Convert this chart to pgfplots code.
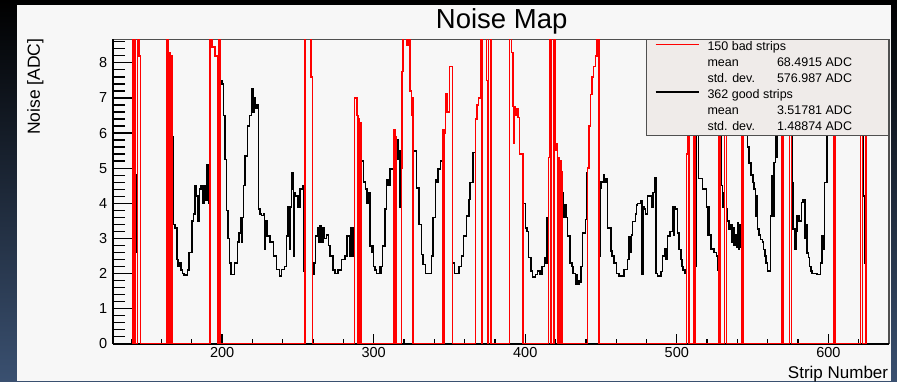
\documentclass[border=0pt]{standalone}
\usepackage{pgfplots}
\pgfplotsset{compat=1.18}
\usepackage{fontspec}
\setmainfont{Liberation Sans}
\definecolor{panel}{RGB}{247,247,247}
\definecolor{legfill}{RGB}{239,235,233}
\definecolor{framegray}{RGB}{80,80,80}
\definecolor{slideblue}{RGB}{58,80,112}
\definecolor{slidemid}{RGB}{10,14,22}
\begin{document}
\begin{tikzpicture}
\useasboundingbox (0pt,0pt) rectangle (897pt,381pt);
\shade[top color=black, middle color=slidemid, bottom color=slideblue] (0pt,0pt) rectangle (897pt,381pt);
\fill[panel] (17.3pt,0pt) rectangle (891pt,376pt);

% frame, y ticks, y label
\begin{axis}[
  at={(113pt,37.3pt)}, anchor=south west,
  scale only axis, width=776pt, height=304.4pt,
  xmin=128, xmax=640, ymin=0, ymax=8.67,
  xtick=\empty,
  ytick={0,1,...,8},
  minor ytick={0,0.2,...,8.6},
  ytick pos=left, tick align=inside,
  major tick length=23pt, minor tick length=11.7pt,
  tick style={black, line width=1.3pt},
  axis line style={draw=framegray, line width=1.1pt},
  yticklabel style={font=\fontsize{14.5}{17}\selectfont, inner sep=0pt, xshift=-5.7pt},
  /pgf/number format/assume math mode=true,
  ylabel={Noise [ADC]},
  ylabel style={at={([xshift=-77.7pt, yshift=1pt]rel axis cs:0,1)}, anchor=east, inner sep=0pt, font=\fontsize{17.5}{20}\selectfont},
  after end axis/.code={
    \draw[black, line width=2pt] (rel axis cs:0,1) -- (rel axis cs:0,0);
    \draw[black, line width=1.7pt] (rel axis cs:0,0) -- (rel axis cs:1,0);
  },
]
\end{axis}

% data, x ticks, legend
\begin{axis}[
  at={(113pt,37.3pt)}, anchor=south west,
  scale only axis, width=776pt, height=304.4pt,
  xmin=128, xmax=640, ymin=0, ymax=8.67,
  ytick=\empty,
  xtick={200,300,...,600},
  minor xtick={140,160,...,620},
  xtick pos=left, tick align=inside,
  major tick length=9.7pt, minor tick length=4.3pt,
  tick style={black, line width=1.3pt},
  axis line style={draw=none},
  xticklabel style={font=\fontsize{14.5}{17}\selectfont, inner sep=0pt, yshift=-3pt},
  /pgf/number format/assume math mode=true,
  xlabel={Strip Number},
  xlabel style={at={([xshift=-0.7pt, yshift=-35.2pt]rel axis cs:1,0)}, anchor=base east, inner sep=0pt, font=\fontsize{17}{20}\selectfont},
  legend cell align=left,
  legend style={at={(rel axis cs:1,1)}, anchor=north east, draw=framegray, line width=1pt, fill=legfill,
    inner xsep=0pt, inner ysep=2pt, row sep=3.86pt, column sep=0pt,
    font=\fontsize{12.5}{15}\selectfont,
    nodes={inner sep=0pt, text height=9pt, text depth=3pt}},
  legend image code/.code={\path[draw=none] (0pt,0pt) -- (61pt,0pt); \draw[#1, line width=1.6pt] (9pt,3.5pt) -- (52pt,3.5pt);},
]
\addplot[const plot, draw=black, line width=1.5pt, forget plot] coordinates {
(128,0)
(143,4.8)(143.5,2.6)(144,0)
(166.8,5.9)(168,3.4)(169,3.3)(170.2,2.4)(171,2.2)(172,2.3)(173,2.1)(174,2.0)(175,1.95)(177,2.1)(178,2.6)(180,3.5)(181,3.7)(182,4.5)(183,4.2)(184,3.5)(185,4.4)(186,4.5)(187,4.0)(188,4.5)(189,4.1)(190,5.1)(191,4.0)(192,0)
(198.7,7.5)(200,7.4)(201,6.5)(202,5.25)(203,3.8)(204,3.0)(205,2.3)(206,1.97)(208,2.3)(210,2.9)(211,3.15)(212,3.6)(212.7,2.9)(213.3,3.6)(214,4.5)(215,5.35)(216.7,6.2)(218,6.5)(219.5,7.25)(220.3,6.6)(221,7.0)(222,6.7)(223,6.8)(223.9,3.83)(225,3.7)(226,3.65)(227.3,3.7)(228,2.7)(228.7,3.5)(229.5,3.07)(231.5,2.9)(233.8,2.5)(236,2.12)(237.8,1.93)(239.3,2.12)(241,2.2)(242.5,3.07)(243.5,3.9)(244.3,2.69)(245.1,3.9)(245.9,4.87)(246.6,4.4)(247.2,2.5)(247.7,4.3)(248.5,4.2)(250,3.9)(251.3,4.4)(253,4.49)(254,2.07)(254.6,0)
(259.7,1.97)(260.5,2.3)(261.5,3.07)(263,3.3)(264,2.9)(264.7,3.35)(265.5,2.9)(266.5,3.3)(267.5,3.0)(269,3.1)(270.3,2.8)(271.2,2.5)(273.3,2.1)(274.5,2.0)(276.5,2.1)(278.8,2.4)(281,2.5)(282.5,3.07)(284.3,2.5)(285,3.3)(286,2.5)(286.8,3.3)(287.5,0)
(292,5.2)(293.3,4.6)(294.5,4.4)(295.5,4.0)(296.3,4.3)(297.4,2.78)(298.5,2.6)(299.2,2.78)(300,2.2)(301,2.1)(301.8,2.0)(304,2.2)(304.8,2.0)(305.3,2.2)(305.8,2.78)(307.3,3.83)(308.6,4.68)(309.5,4.5)(310.6,4.97)(313.2,0)
(315,5.8)(316,5.25)(317,5.5)(317.5,3.9)(318.3,0)
(326,5.49)(328.2,4.44)(329.9,3.4)(331.4,2.54)(332.5,2.26)(334.3,2.0)(338,2.5)(339.1,3.59)(340.9,4.68)(341.7,4.6)(342.4,4.97)(344,5.2)(345.7,0)
(351.9,2.3)(353.4,2.0)(356.2,2.2)(357.8,2.5)(359.3,3.07)(361.1,3.64)(362.8,4.11)(363.7,4.59)(365.5,5.44)(367.2,0)
(398.4,4.59)(399,4.0)(400.1,3.3)(401,3.2)(402.3,2.45)(403.8,2.07)(404.9,1.9)(406.7,1.97)(408.2,2.07)(409.8,1.97)(411.1,2.2)(412.6,2.45)(413.2,2.3)(414.2,3.59)(415.3,0)
(422.1,4.49)(423,0)(423.6,3.35)(424,0)(424.7,4.3)(425.3,3.6)(425.8,3.97)(427,3.6)(428,3.07)(429.5,2.3)(430.8,2.2)(431.5,2.0)(433.2,1.7)(433.9,1.95)(434.6,1.69)(435.3,1.8)(435.7,1.74)(436.8,2.2)(437.9,3.16)(439.6,3.54)(440.3,4.87)(441.2,0)
(448.8,2.5)(449.3,4.44)(449.9,4.6)(451.5,4.8)(452.2,4.6)(453.2,4.7)(454.3,3.3)(456.5,2.64)(457.3,2.5)(458.7,2.3)(460.2,2.0)(462,1.93)(465.3,2.12)(467.5,2.4)(468.6,3.05)(469.3,2.6)(470,3.1)(470.8,3.48)(472.6,3.7)(473.3,3.95)(474.1,4.0)(476.3,4.07)(477,1.97)(477.8,3.9)(478.5,3.83)(479.5,3.7)(480.7,4.2)(482.2,4.21)(483.5,3.9)(484.4,4.3)(485.3,4.73)(486.3,2.0)(487.3,1.93)(489.4,2.05)(490.6,2.5)(492.3,2.7)(493,2.4)(493.8,3.07)(495.4,3.2)(497.1,3.9)(497.8,3.1)(498.5,3.9)(498.9,3.83)(500.4,3.16)(501.5,2.69)(502.6,2.4)(503.5,2.2)(504.2,2.1)(505.5,2.0)(506.3,0)
(512.4,2.2)(513,6.2)(514.4,4.7)(516.9,4.4)(519.5,3.9)(520.5,3.1)(521,3.9)(521.7,3.1)(522.4,2.7)(524.6,2.6)(526.1,2.5)(526.8,2.1)(527.9,0)
(528.9,6.2)(529.6,4.5)(530.3,3.9)(531,4.3)(531.6,0)
(532.7,3.83)(533.5,3.5)(534.4,3.26)(535.5,3.4)(536.3,2.9)(537,3.3)(537.7,2.8)(538.5,3.1)(539.3,2.75)(540,3.45)(540.7,2.7)(541.4,3.4)(542.1,2.75)(542.8,0)
(543.8,7.0)(545.4,6.2)(546.5,5.6)(547.6,5.15)(549,4.8)(550.2,4.59)(550.9,4.4)(551.8,3.64)(552.5,4.2)(553.1,3.26)(554.2,3.1)(555.3,2.97)(556.4,2.9)(557.3,2.69)(558.1,2.5)(559,2.3)(559.7,2.07)(561.9,3.64)(562.5,4.78)(563.2,3.64)(564.1,5.16)(565,6.1)(565.6,5.3)(566.2,7.0)(569.3,0)
(575.5,6.5)(576,4.59)(576.5,3.26)(577.9,2.69)(578.6,3.2)(579.4,3.64)(580.5,3.5)(582.3,4.02)(583.3,4.1)(584.5,3.0)(585.2,3.4)(586,2.59)(587,2.45)(587.5,2.2)(588.5,2.07)(589.3,2.0)(592.6,1.97)(594.8,2.3)(595.9,3.07)(596.8,2.69)(597.6,4.59)(599.2,6.5)(600.3,8)(603.6,0)
(622.6,6.5)(623.3,4.2)(624,2.3)(624.8,0)
(640,0)
};
\addplot[const plot, draw=red, line width=1.5pt, forget plot] coordinates {
(128,20)(141,0)(142,20)(143,0)(144,20)(145,8.2)(146,0)
(163.5,20)(164.3,8.3)(165,0)(165.3,8.3)(166,0)(166.3,8.2)(166.8,0)
(192,20)(193.3,8.45)(195.3,8.2)(197,0)(197.8,20)(198.7,0)
(254.6,20)(258.5,7.6)(259.7,0)
(287.5,7.0)(289,6.5)(289.6,0)(290,6.4)(290.6,0)(291,6.3)(292,0)
(313.2,6.1)(314,0)(314.3,5.9)(315,0)
(318.3,5.0)(318.8,7.75)(319.4,20)(321.6,8.5)(322.6,20)(323.8,7.2)(324.8,6.5)(325.4,7.0)(326,0)
(345.7,6.1)(346.4,0)(346.7,6.0)(347.3,7.13)(348.5,6.6)(350,7.9)(351.9,0)
(367.2,6.4)(368,6.8)(369.3,7.0)(370.5,20)(371.3,0)(371.8,20)(374.5,7.5)(375.3,0)(375.8,20)(377.3,0)
(389.6,20)(390.8,8.3)(391.8,6.75)(392.3,5.7)(392.8,6.75)(393.3,6.5)(394,6.7)(395.1,6.44)(396.2,5.4)(398.4,0)
(415.3,5.3)(416,20)(417,0)(419,20)(419.8,5.5)(420.5,5.7)(421.2,0)(421.5,5.3)(422.1,0)(423,5.2)(423.6,0)(424,4.9)(424.7,0)
(441.2,5.0)(442,6.2)(443,7.1)(444,7.6)(445,7.9)(446.2,8.2)(447.2,20)(448.8,0)
(506.3,5.4)(507.3,7)(508.2,0)
(511.5,20)(512.4,0)
(527.9,20)(528.9,0)
(531.6,20)(532.7,0)
(542.8,20)(543.8,0)
(569.3,20)(570.3,0)
(574.5,20)(575.5,0)
(603.6,20)(604.6,0)
(621.3,20)(622.6,0)
(624.8,20)(640,20)
};
\addlegendimage{draw=red}
\addlegendentry{\makebox[181pt][l]{150 bad strips}}
\addlegendimage{empty legend}
\addlegendentry{\makebox[69.5pt][l]{mean}\makebox[111.5pt][l]{68.4915 ADC}}
\addlegendimage{empty legend}
\addlegendentry{\makebox[69.5pt][l]{std. dev.}\makebox[111.5pt][l]{576.987 ADC}}
\addlegendimage{draw=black}
\addlegendentry{\makebox[181pt][l]{362 good strips}}
\addlegendimage{empty legend}
\addlegendentry{\makebox[69.5pt][l]{mean}\makebox[111.5pt][l]{3.51781 ADC}}
\addlegendimage{empty legend}
\addlegendentry{\makebox[69.5pt][l]{std. dev.}\makebox[111.5pt][l]{1.48874 ADC}}
\end{axis}
\node[anchor=base, inner sep=0pt, font=\fontsize{27.5}{32}\selectfont] at (501.7pt,352.7pt) {Noise Map};
\end{tikzpicture}
\end{document}
